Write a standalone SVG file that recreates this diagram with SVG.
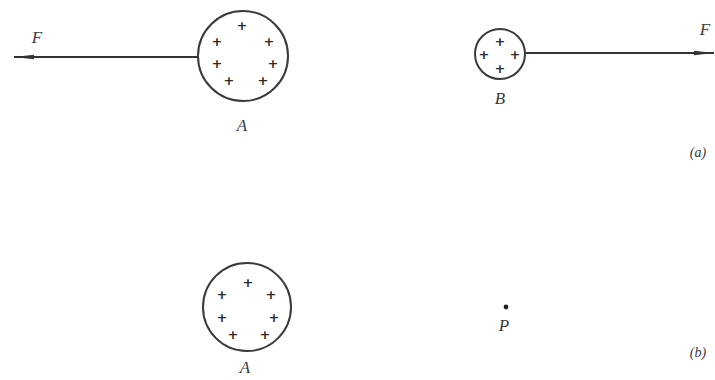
<svg xmlns="http://www.w3.org/2000/svg" width="715" height="380" viewBox="0 0 715 380">
<style>
.sph{fill:none;stroke:#3a3a3a;stroke-width:2}
.pl{font-family:"DejaVu Sans",sans-serif;font-size:13px;font-weight:bold;fill:#2a2a2a;text-anchor:middle;dominant-baseline:central}
.lbl{font-family:"Liberation Serif","Times New Roman",serif;font-style:italic;font-size:17px;fill:#3a3a3a;text-anchor:middle}
.tag{font-family:"Liberation Serif","Times New Roman",serif;font-style:italic;font-size:14px;fill:#3a3a3a;text-anchor:middle}
.force{stroke:#333;stroke-width:2;fill:none}
</style>
<defs>
<marker id="arr" viewBox="0 0 20 6" refX="20" refY="3" markerWidth="20" markerHeight="6" markerUnits="userSpaceOnUse" orient="auto">
<path d="M0,0.8 L20,3 L0,5.2 Z" fill="#333"/>
</marker>
</defs>
<rect width="715" height="380" fill="#fff"/>
<g id="connectors">
<line class="force" x1="198" y1="57" x2="14" y2="57" marker-end="url(#arr)"/>
<line class="force" x1="525" y1="53" x2="714" y2="53" marker-end="url(#arr)"/>
</g>
<g id="sphereA_top">
<circle class="sph" cx="243" cy="56" r="45"/>
<text class="pl" x="242" y="25">+</text>
<text class="pl" x="217" y="41">+</text>
<text class="pl" x="269" y="41">+</text>
<text class="pl" x="217" y="63">+</text>
<text class="pl" x="273" y="63">+</text>
<text class="pl" x="229" y="80">+</text>
<text class="pl" x="263" y="80">+</text>
<text class="lbl" x="242" y="131">A</text>
</g>
<text class="lbl" x="37" y="43">F</text>
<g id="sphereB">
<circle class="sph" cx="500" cy="54" r="25"/>
<text class="pl" x="500" y="41">+</text>
<text class="pl" x="484" y="54">+</text>
<text class="pl" x="515" y="54">+</text>
<text class="pl" x="500" y="68">+</text>
<text class="lbl" x="500" y="104">B</text>
</g>
<text class="lbl" x="705" y="35">F</text>
<text class="tag" x="698" y="157">(a)</text>
<g id="sphereA_bottom">
<circle class="sph" cx="247" cy="307" r="44"/>
<text class="pl" x="248" y="282">+</text>
<text class="pl" x="222" y="294">+</text>
<text class="pl" x="271" y="294">+</text>
<text class="pl" x="222" y="317">+</text>
<text class="pl" x="274" y="317">+</text>
<text class="pl" x="233" y="334">+</text>
<text class="pl" x="265" y="334">+</text>
<text class="lbl" x="245" y="373">A</text>
</g>
<g id="pointP">
<circle cx="506" cy="307" r="2.4" fill="#222"/>
<text class="lbl" x="504" y="331">P</text>
</g>
<text class="tag" x="698" y="357">(b)</text>
</svg>
